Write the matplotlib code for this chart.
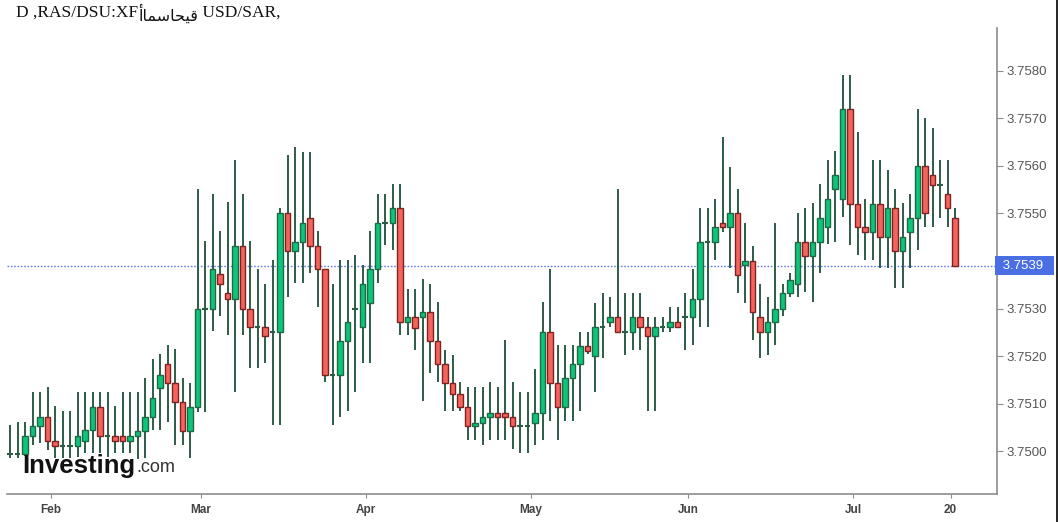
import numpy as np
import pandas as pd
import matplotlib
matplotlib.use("Agg")
import matplotlib.pyplot as plt
from matplotlib.transforms import blended_transform_factory

# ---------------- data ----------------
dates = pd.bdate_range("2020-01-24", "2020-07-20")

opens = [3.74993, 3.74993, 3.74994, 3.75032, 3.75053, 3.75072, 3.75022, 3.75011, 3.75011, 3.75011,
         3.75022, 3.75044, 3.75092, 3.75032, 3.75032, 3.75032, 3.75022, 3.75032, 3.75043, 3.75071,
         3.75132, 3.75183, 3.75143, 3.75104, 3.75043, 3.75093, 3.75300, 3.75300, 3.75372, 3.75332,
         3.75321, 3.75432, 3.75300, 3.75262, 3.75262, 3.75251, 3.75251, 3.75502, 3.75422, 3.75441,
         3.75491, 3.75432, 3.75383, 3.75161, 3.75161, 3.75232, 3.75300, 3.75262, 3.75311, 3.75383,
         3.75481, 3.75479, 3.75511, 3.75271, 3.75283, 3.75283, 3.75293, 3.75232, 3.75183, 3.75143,
         3.75121, 3.75092, 3.75053, 3.75060, 3.75072, 3.75081, 3.75081, 3.75072, 3.75053, 3.75053,
         3.75060, 3.75081, 3.75251, 3.75143, 3.75092, 3.75153, 3.75183, 3.75222, 3.75201, 3.75262,
         3.75272, 3.75283, 3.75251, 3.75251, 3.75283, 3.75262, 3.75243, 3.75262, 3.75262, 3.75271,
         3.75283, 3.75283, 3.75321, 3.75441, 3.75441, 3.75479, 3.75471, 3.75500, 3.75392, 3.75401,
         3.75283, 3.75251, 3.75271, 3.75300, 3.75332, 3.75351, 3.75441, 3.75411, 3.75441, 3.75472,
         3.75551, 3.75530, 3.75719, 3.75521, 3.75472, 3.75460, 3.75521, 3.75451, 3.75511, 3.75422,
         3.75460, 3.75490, 3.75601, 3.75580, 3.75561, 3.75540, 3.75491]
highs = [3.75055, 3.75062, 3.75062, 3.75124, 3.75124, 3.75134, 3.75095, 3.75084, 3.75084, 3.75124,
         3.75124, 3.75124, 3.75124, 3.75124, 3.75095, 3.75124, 3.75124, 3.75124, 3.75154, 3.75194,
         3.75204, 3.75223, 3.75214, 3.75154, 3.75144, 3.75552, 3.75442, 3.75542, 3.75463, 3.75524,
         3.75613, 3.75542, 3.75442, 3.75383, 3.75352, 3.75402, 3.75512, 3.75623, 3.75640, 3.75630,
         3.75630, 3.75463, 3.75383, 3.75351, 3.75402, 3.75402, 3.75413, 3.75392, 3.75463, 3.75541,
         3.75541, 3.75562, 3.75562, 3.75341, 3.75341, 3.75362, 3.75352, 3.75313, 3.75213, 3.75202,
         3.75145, 3.75134, 3.75134, 3.75134, 3.75145, 3.75134, 3.75234, 3.75145, 3.75124, 3.75124,
         3.75173, 3.75313, 3.75383, 3.75223, 3.75223, 3.75223, 3.75251, 3.75251, 3.75312, 3.75333,
         3.75324, 3.75551, 3.75333, 3.75333, 3.75333, 3.75283, 3.75283, 3.75283, 3.75303, 3.75303,
         3.75333, 3.75383, 3.75512, 3.75512, 3.75531, 3.75661, 3.75598, 3.75551, 3.75481, 3.75432,
         3.75352, 3.75324, 3.75481, 3.75352, 3.75374, 3.75502, 3.75512, 3.75523, 3.75562, 3.75613,
         3.75632, 3.75792, 3.75792, 3.75671, 3.75530, 3.75613, 3.75613, 3.75592, 3.75552, 3.75523,
         3.75540, 3.75719, 3.75702, 3.75681, 3.75613, 3.75613, 3.75512]
lows = [3.74985, 3.74985, 3.74989, 3.75013, 3.75016, 3.75002, 3.74985, 3.74985, 3.74985, 3.74988,
        3.74996, 3.74996, 3.74996, 3.74988, 3.74996, 3.74996, 3.74996, 3.74983, 3.74986, 3.75044,
        3.75044, 3.75062, 3.75013, 3.75013, 3.74986, 3.75082, 3.75083, 3.75253, 3.75285, 3.75244,
        3.75124, 3.75244, 3.75174, 3.75174, 3.75185, 3.75055, 3.75055, 3.75325, 3.75353, 3.75353,
        3.75374, 3.75303, 3.75145, 3.75055, 3.75072, 3.75084, 3.75124, 3.75185, 3.75185, 3.75353,
        3.75434, 3.75423, 3.75244, 3.75244, 3.75213, 3.75105, 3.75164, 3.75145, 3.75084, 3.75084,
        3.75084, 3.75023, 3.75023, 3.75013, 3.75023, 3.75023, 3.75023, 3.75004, 3.74995, 3.74995,
        3.75013, 3.75023, 3.75063, 3.75023, 3.75063, 3.75063, 3.75084, 3.75204, 3.75124, 3.75195,
        3.75262, 3.75251, 3.75202, 3.75213, 3.75213, 3.75084, 3.75084, 3.75251, 3.75251, 3.75262,
        3.75213, 3.75223, 3.75262, 3.75262, 3.75402, 3.75462, 3.75385, 3.75333, 3.75312, 3.75234,
        3.75195, 3.75202, 3.75223, 3.75284, 3.75324, 3.75324, 3.75334, 3.75313, 3.75374, 3.75435,
        3.75441, 3.75493, 3.75434, 3.75413, 3.75402, 3.75402, 3.75385, 3.75385, 3.75343, 3.75343,
        3.75385, 3.75423, 3.75472, 3.75472, 3.75491, 3.75472, 3.75390]
closes = [3.74993, 3.74993, 3.75032, 3.75053, 3.75071, 3.75021, 3.75011, 3.75011, 3.75011, 3.75032,
          3.75044, 3.75092, 3.75032, 3.75032, 3.75022, 3.75022, 3.75032, 3.75043, 3.75071, 3.75111,
          3.75161, 3.75143, 3.75104, 3.75043, 3.75092, 3.75300, 3.75300, 3.75383, 3.75352, 3.75321,
          3.75432, 3.75300, 3.75262, 3.75262, 3.75243, 3.75251, 3.75502, 3.75422, 3.75441, 3.75481,
          3.75432, 3.75383, 3.75161, 3.75161, 3.75232, 3.75272, 3.75300, 3.75351, 3.75383, 3.75481,
          3.75481, 3.75511, 3.75271, 3.75283, 3.75260, 3.75293, 3.75232, 3.75183, 3.75143, 3.75121,
          3.75092, 3.75053, 3.75060, 3.75072, 3.75081, 3.75072, 3.75072, 3.75053, 3.75053, 3.75053,
          3.75081, 3.75251, 3.75143, 3.75092, 3.75153, 3.75183, 3.75222, 3.75211, 3.75262, 3.75262,
          3.75283, 3.75251, 3.75251, 3.75283, 3.75262, 3.75243, 3.75262, 3.75262, 3.75271, 3.75262,
          3.75283, 3.75321, 3.75441, 3.75441, 3.75471, 3.75471, 3.75500, 3.75371, 3.75401, 3.75292,
          3.75250, 3.75271, 3.75300, 3.75332, 3.75361, 3.75441, 3.75411, 3.75441, 3.75490, 3.75530,
          3.75580, 3.75719, 3.75521, 3.75472, 3.75460, 3.75521, 3.75451, 3.75511, 3.75422, 3.75451,
          3.75490, 3.75601, 3.75500, 3.75561, 3.75561, 3.75511, 3.75390]

tick_labels = ["Feb", "Mar", "Apr", "May", "Jun", "Jul", "20"]
tick_dates = ["2020-02-03", "2020-03-02", "2020-04-01", "2020-05-01", "2020-06-01", "2020-07-01", "2020-07-20"]
y_ticks = [3.7500, 3.7510, 3.7520, 3.7530, 3.7550, 3.7560, 3.7570, 3.7580]
last_price = 3.7539
title_latin_1 = "D ,RAS/DSU:XF"
title_arabic = "\uFE83\uFE8E\uFEE4\uFEB3\uFE8E\uFEA4\uFEF4\uFED7"
title_latin_2 = " USD/SAR,"

# ---------------- drawing ----------------
W, H = 1060, 522
fig = plt.figure(figsize=(W / 100, H / 100), dpi=100)
fig.patch.set_facecolor("white")
ax = fig.add_axes([7 / W, 28 / H, 990 / W, 466 / H])

o = np.array(opens); h = np.array(highs); l = np.array(lows); c = np.array(closes)
x = np.arange(len(dates))

GREEN = "#0ec47b"; GREEN_EDGE = "#1e6a45"
RED = "#f4645c"; RED_EDGE = "#7e2222"
WICK = "#2d5c45"

ax.vlines(x, l, h, color=WICK, linewidth=1.4, zorder=2)
up = c > o
down = c < o
flat = c == o
bw = 0.68
ax.bar(x[up], (c - o)[up], bottom=o[up], width=bw, color=GREEN, edgecolor=GREEN_EDGE, linewidth=1.0, zorder=3)
ax.bar(x[down], (o - c)[down], bottom=c[down], width=bw, color=RED, edgecolor=RED_EDGE, linewidth=1.0, zorder=3)
ax.hlines(o[flat], x[flat] - bw / 2, x[flat] + bw / 2, color=WICK, linewidth=1.5, zorder=3)

ax.axhline(last_price, color="#6a7fe8", linestyle=(0, (1.2, 1.2)), linewidth=1.0, zorder=1)

ax.set_xlim(-0.4, 131.6)
ax.set_ylim(3.749095, 3.758905)

pos = [int(np.where(dates == pd.Timestamp(d))[0][0]) - 0.6 for d in tick_dates]
ax.set_xticks(pos)
ax.set_xticklabels(tick_labels)
ax.set_yticks(y_ticks)
ax.set_yticklabels([f"{v:.4f}" for v in y_ticks])
ax.yaxis.tick_right()

for s in ["top", "left"]:
    ax.spines[s].set_visible(False)
for s in ["bottom", "right"]:
    ax.spines[s].set_color("#8c8c8c")
    ax.spines[s].set_linewidth(1.2)

ax.tick_params(axis="y", direction="out", length=4, color="#8c8c8c", pad=3,
               labelsize=9.5, labelcolor="#555555")
ax.tick_params(axis="x", direction="out", length=3, color="#8c8c8c", pad=4,
               labelsize=8.5, labelcolor="#444444")
for t in ax.get_yticklabels() + ax.get_xticklabels():
    t.set_fontfamily("Liberation Sans")
for t in ax.get_xticklabels():
    t.set_fontweight("bold")

# last price tag
tr = blended_transform_factory(ax.transAxes, ax.transData)
ax.text(1.002, last_price, " 3.7539  ", transform=tr, ha="left", va="center",
        fontsize=9.5, color="white", family="Liberation Sans",
        bbox=dict(boxstyle="square,pad=0.28", facecolor="#4a6fe3", edgecolor="none"),
        clip_on=False, zorder=5)

# title (three runs placed side by side)
renderer = fig.canvas.get_renderer()
ty = 1 - 13 / H
t_a = fig.text(16 / W, ty, title_latin_1, ha="left", va="center", fontsize=12.5,
               family="Liberation Serif", color="#111111")
bb = t_a.get_window_extent(renderer=renderer)
t_b = fig.text(bb.x1 / W, ty - 1 / H, title_arabic, ha="left", va="center", fontsize=11.5,
               family="DejaVu Sans", color="#111111")
bb = t_b.get_window_extent(renderer=renderer)
fig.text(bb.x1 / W, ty, title_latin_2, ha="left", va="center", fontsize=12.5,
         family="Liberation Serif", color="#111111")

# logo
t1 = fig.text(22 / W, 1 - 466 / H, "Investing", ha="left", va="center", fontsize=18.5,
              fontweight="bold", family="Liberation Sans", color="#111111")
bb = t1.get_window_extent(renderer=renderer)
fig.text(bb.x1 / W + 1 / W, 1 - 468 / H, ".com", ha="left", va="center", fontsize=13,
         family="Liberation Sans", color="#333333")

# outer right border
fig.add_artist(plt.Line2D([1057 / W, 1057 / W], [0, 1], color="black", linewidth=1.2))

fig.savefig("out.png", dpi=100, facecolor="white")
